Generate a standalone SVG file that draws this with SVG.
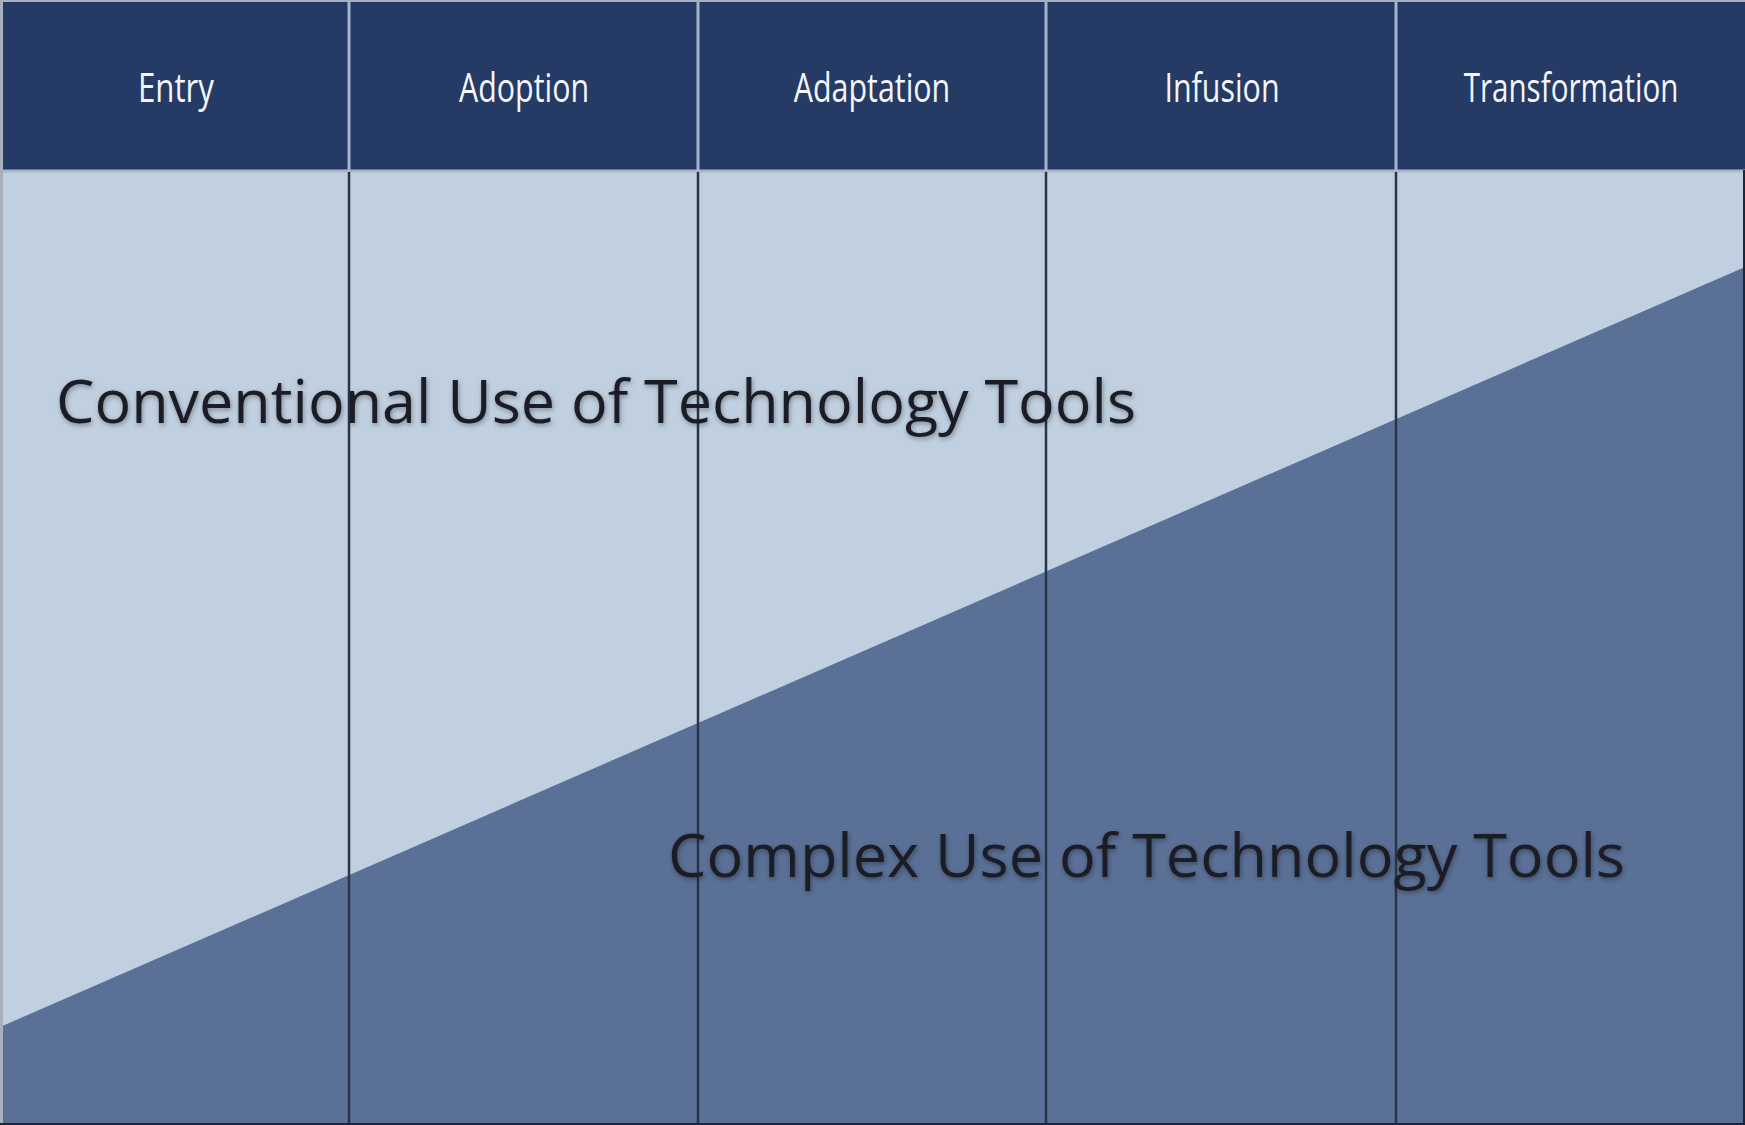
<svg xmlns="http://www.w3.org/2000/svg" width="1745" height="1125" viewBox="0 0 1745 1125">
<defs>
<style>
.hdr{fill:#253b65}
.hl{stroke:#a9b6ca;stroke-width:3}
.bl{stroke:#2b3447;stroke-width:2.5}
.ht{font-family:"Open Sans","Liberation Sans",sans-serif;font-size:40px;fill:#f4f6fa;text-anchor:middle}
.bt{font-family:"Open Sans","Liberation Sans",sans-serif;font-size:60px;fill:#1c1f26}
</style>
<filter id="glow" x="-5%" y="-30%" width="110%" height="160%">
<feGaussianBlur in="SourceAlpha" stdDeviation="2.5"/>
<feOffset dx="1" dy="2" result="b"/>
<feFlood flood-color="#000" flood-opacity="0.35"/>
<feComposite in2="b" operator="in"/>
<feMerge><feMergeNode/><feMergeNode in="SourceGraphic"/></feMerge>
</filter>
</defs>
<g id="body">
<rect x="0" y="170" width="1745" height="955" fill="#c0d0e0"/>
<polygon points="0,1027 1745,267 1745,1125 0,1125" fill="#5a7096"/>
</g>
<g id="header">
<rect class="hdr" x="0" y="0" width="1745" height="170"/>
<line x1="0" y1="171" x2="1745" y2="171" stroke="#a9b6ca" stroke-width="3"/>
</g>
<g id="connectors">
<line class="hl" x1="349" y1="0" x2="349" y2="170"/>
<line class="hl" x1="698" y1="0" x2="698" y2="170"/>
<line class="hl" x1="1046" y1="0" x2="1046" y2="170"/>
<line class="hl" x1="1396" y1="0" x2="1396" y2="170"/>
<line class="bl" x1="349" y1="172" x2="349" y2="1125"/>
<line class="bl" x1="698" y1="172" x2="698" y2="1125"/>
<line class="bl" x1="1046" y1="172" x2="1046" y2="1125"/>
<line class="bl" x1="1396" y1="172" x2="1396" y2="1125"/>
<line x1="1.5" y1="0" x2="1.5" y2="1125" stroke="#a9b0bc" stroke-width="3"/>
<line x1="1744" y1="170" x2="1744" y2="1125" stroke="#1e2635" stroke-width="2"/>
<line x1="0" y1="1124" x2="1745" y2="1124" stroke="#1e2635" stroke-width="2"/>
<line x1="0" y1="1" x2="1745" y2="1" stroke="#a9b0bc" stroke-width="2"/>
</g>
<g id="h-entry" transform="translate(176,102) scale(0.78,1)"><text class="ht" x="0" y="0">Entry</text></g>
<g id="h-adoption" transform="translate(524,102) scale(0.76,1)"><text class="ht" x="0" y="0">Adoption</text></g>
<g id="h-adaptation" transform="translate(872,102) scale(0.76,1)"><text class="ht" x="0" y="0">Adaptation</text></g>
<g id="h-infusion" transform="translate(1222,102) scale(0.76,1)"><text class="ht" x="0" y="0">Infusion</text></g>
<g id="h-transformation" transform="translate(1571,102) scale(0.74,1)"><text class="ht" x="0" y="0">Transformation</text></g>
<g id="conventional"><text class="bt" x="56" y="423" textLength="1080" lengthAdjust="spacingAndGlyphs" filter="url(#glow)">Conventional Use of Technology Tools</text></g>
<g id="complex"><text class="bt" x="668" y="877" textLength="957" lengthAdjust="spacingAndGlyphs" filter="url(#glow)">Complex Use of Technology Tools</text></g>
</svg>
